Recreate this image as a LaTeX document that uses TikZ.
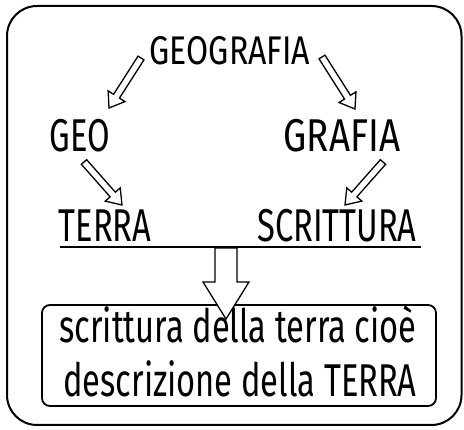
\documentclass[tikz,border=0pt]{standalone}
\usepackage{fontspec}
\setmainfont{Fira Sans}[FakeStretch=0.71]
\newfontfamily\widefont{Fira Sans}[FakeStretch=0.8]
\usetikzlibrary{calc}
\tikzset{
  lbl/.style={inner sep=0pt, anchor=base, font=\fontsize{46}{48}\selectfont},
  frame/.style={draw=black, line width=2pt, rounded corners=30pt},
  resbox/.style={draw=black, line width=1.8pt, rounded corners=8pt},
  harrow/.style={draw=black, fill=white, line width=1.3pt, line join=miter},
}
% hollow arrow: #1 tail, #2 tip, #3 shaft half width, #4 head half width, #5 head length
\newcommand\hollowarrow[5]{%
  \path[harrow]
    ($(#1)!#3!90:(#2)$) --
    ($($(#2)!#5!(#1)$)!#3!90:(#2)$) --
    ($($(#2)!#5!(#1)$)!#4!90:(#2)$) --
    (#2) --
    ($($(#2)!#5!(#1)$)!#4!-90:(#2)$) --
    ($($(#2)!#5!(#1)$)!#3!-90:(#2)$) --
    ($(#1)!#3!-90:(#2)$) -- cycle;}
\begin{document}
\begin{tikzpicture}[x=1pt,y=-1pt]
\useasboundingbox (0,0) rectangle (464,430);
\draw[frame] (7,6) rectangle (461.5,425);
% nodes
\node[lbl, font=\fontsize{40}{42}\widefont] (geografia) at (230,65) {GEOGRAFIA};
\node[lbl] (geo) at (80,152) {GEO};
\node[lbl, font=\fontsize{46}{48}\widefont] (grafia) at (342,152) {GRAFIA};
\node[lbl] (terra) at (105,242) {TERRA};
\node[lbl] (scrittura) at (337,242) {SCRITTURA};
\node[resbox, minimum width=394pt, minimum height=101pt] (res) at (239,355.5) {};
\node[lbl] (l1) at (238,343) {scrittura della terra cioè};
\node[lbl] (l2) at (240,397) {descrizione della TERRA};
% underline
\coordinate (ul1) at (60,247);
\coordinate (ul2) at (421,247);
\draw[line width=1.8pt] (ul1) -- (ul2);
% arrow endpoints
\coordinate (a1t) at (141,58);
\coordinate (a1h) at (109,108);
\coordinate (a2t) at (322,57);
\coordinate (a2h) at (355,109);
\coordinate (a3t) at (84,162);
\coordinate (a3h) at (122,205);
\coordinate (a4t) at (383,162);
\coordinate (a4h) at (345,205);
\coordinate (bt) at (226,247.9);
\coordinate (bh) at (226,319);
\hollowarrow{a1t}{a1h}{3.5pt}{10pt}{14pt}
\hollowarrow{a2t}{a2h}{3.5pt}{10pt}{14pt}
\hollowarrow{a3t}{a3h}{3.5pt}{10pt}{14pt}
\hollowarrow{a4t}{a4h}{3.5pt}{10pt}{14pt}
\hollowarrow{bt}{bh}{11pt}{23pt}{37pt}
\end{tikzpicture}
\end{document}
